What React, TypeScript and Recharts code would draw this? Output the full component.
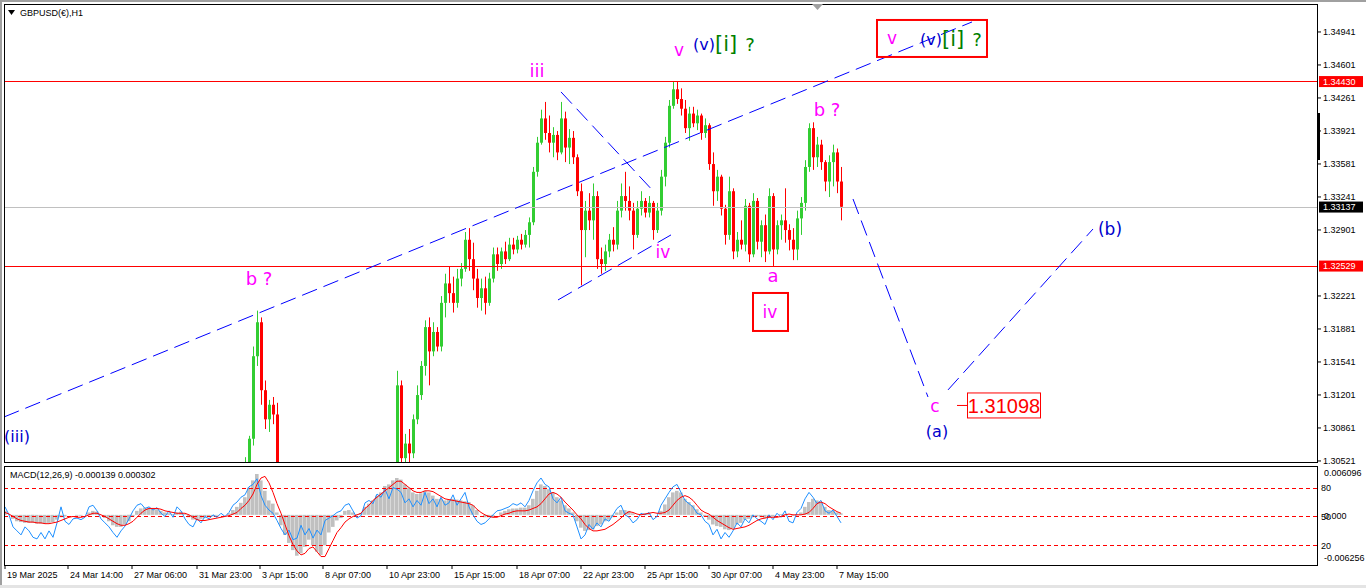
import React from 'react';
import { ComposedChart, Bar, Line, XAxis, YAxis, ReferenceLine, ReferenceDot } from 'recharts';

const FONT_AXIS = '"Liberation Sans", Arial, sans-serif';
const FONT_WAVE = '"DejaVu Sans", Verdana, sans-serif';
const UP = '#32CD32';
const DOWN = '#FF0000';
const MAGENTA = '#FF00FF';
const BLUE = '#0000CD';
const GREEN = '#008000';

// ---- data ----
const FIRST_HOUR = 1;
const HOURS_PER_CANDLE = 4;

// [open, high, low, close] – 4-hour candles of GBPUSD H1 chart
const candles: [number, number, number, number][] = [
  [1.3000,1.3003,1.2990,1.2995],[1.2995,1.2998,1.2985,1.2990],[1.2990,1.2993,1.2980,1.2985],[1.2985,1.2988,1.2970,1.2975],
  [1.2975,1.2978,1.2955,1.2960],[1.2960,1.2964,1.2950,1.2955],[1.2955,1.2958,1.2945,1.2950],[1.2950,1.2953,1.2940,1.2945],
  [1.2945,1.2950,1.2936,1.2940],[1.2940,1.2944,1.2930,1.2935],[1.2935,1.2940,1.2925,1.2930],[1.2930,1.2934,1.2920,1.2925],
  [1.2925,1.2928,1.2915,1.2920],[1.2920,1.2934,1.2917,1.2930],[1.2930,1.2950,1.2927,1.2945],[1.2945,1.2948,1.2935,1.2940],
  [1.2940,1.2943,1.2930,1.2935],[1.2935,1.2938,1.2926,1.2930],[1.2930,1.2934,1.2920,1.2925],[1.2925,1.2934,1.2922,1.2930],
  [1.2930,1.2939,1.2927,1.2935],[1.2935,1.2950,1.2932,1.2945],[1.2945,1.2955,1.2941,1.2950],[1.2950,1.2953,1.2940,1.2945],
  [1.2945,1.2948,1.2930,1.2935],[1.2935,1.2938,1.2915,1.2920],[1.2920,1.2924,1.2900,1.2905],[1.2905,1.2908,1.2885,1.2890],
  [1.2890,1.2893,1.2875,1.2880],[1.2880,1.2890,1.2876,1.2885],[1.2885,1.2899,1.2881,1.2895],[1.2895,1.2910,1.2891,1.2905],
  [1.2905,1.2925,1.2901,1.2920],[1.2920,1.2940,1.2916,1.2935],[1.2935,1.2950,1.2930,1.2945],[1.2945,1.2956,1.2940,1.2950],
  [1.2950,1.2955,1.2944,1.2950],[1.2950,1.2954,1.2943,1.2948],[1.2948,1.2951,1.2940,1.2945],[1.2945,1.2948,1.2936,1.2940],
  [1.2940,1.2944,1.2930,1.2935],[1.2935,1.2941,1.2931,1.2937],[1.2937,1.2940,1.2928,1.2933],[1.2933,1.2950,1.2930,1.2945],
  [1.2945,1.2948,1.2935,1.2940],[1.2940,1.2943,1.2925,1.2930],[1.2930,1.2933,1.2910,1.2915],[1.2915,1.2918,1.2905,1.2910],
  [1.2910,1.2919,1.2906,1.2915],[1.2915,1.2918,1.2908,1.2912],[1.2912,1.2922,1.2909,1.2918],[1.2918,1.2921,1.2911,1.2915],
  [1.2915,1.2924,1.2912,1.2920],[1.2920,1.2923,1.2914,1.2918],[1.2918,1.2926,1.2915,1.2922],[1.2922,1.2925,1.2916,1.2920],
  [1.2920,1.2929,1.2917,1.2925],[1.2925,1.2944,1.2922,1.2940],[1.2940,1.2960,1.2936,1.2955],[1.2955,1.2995,1.2950,1.2985],
  [1.2985,1.3056,1.2980,1.3050],[1.3050,1.3078,1.3040,1.3075],[1.3075,1.3170,1.3068,1.3160],[1.3160,1.3207,1.3150,1.3195],
  [1.3195,1.3200,1.3110,1.3125],[1.3125,1.3135,1.3085,1.3095],[1.3095,1.3115,1.3082,1.3110],[1.3110,1.3118,1.3090,1.3100],
  [1.3100,1.3112,1.3030,1.3040],[1.3040,1.3045,1.3000,1.3010],[1.3010,1.3015,1.2975,1.2980],[1.2980,1.2985,1.2945,1.2950],
  [1.2950,1.2955,1.2895,1.2900],[1.2900,1.2905,1.2875,1.2880],[1.2880,1.2885,1.2855,1.2860],[1.2860,1.2868,1.2845,1.2850],
  [1.2850,1.2885,1.2846,1.2880],[1.2880,1.2884,1.2845,1.2850],[1.2850,1.2855,1.2795,1.2800],[1.2800,1.2805,1.2750,1.2760],
  [1.2760,1.2785,1.2755,1.2780],[1.2780,1.2795,1.2775,1.2790],[1.2790,1.2794,1.2765,1.2770],[1.2770,1.2775,1.2752,1.2760],
  [1.2760,1.2785,1.2756,1.2780],[1.2780,1.2825,1.2776,1.2820],[1.2820,1.2855,1.2815,1.2850],[1.2850,1.2854,1.2825,1.2830],
  [1.2830,1.2834,1.2805,1.2810],[1.2810,1.2855,1.2806,1.2850],[1.2850,1.2885,1.2845,1.2880],[1.2880,1.2884,1.2865,1.2870],
  [1.2870,1.2905,1.2866,1.2900],[1.2900,1.2925,1.2896,1.2920],[1.2920,1.2945,1.2915,1.2940],[1.2940,1.2965,1.2935,1.2960],
  [1.2960,1.2995,1.2955,1.2990],[1.2990,1.3025,1.2985,1.3020],[1.3020,1.3145,1.3015,1.3130],[1.3130,1.3135,1.3040,1.3055],
  [1.3055,1.3080,1.3035,1.3070],[1.3070,1.3085,1.3045,1.3060],[1.3060,1.3100,1.3055,1.3095],[1.3095,1.3130,1.3090,1.3120],
  [1.3120,1.3155,1.3115,1.3150],[1.3150,1.3197,1.3140,1.3190],[1.3190,1.3200,1.3130,1.3165],[1.3165,1.3195,1.3160,1.3185],
  [1.3185,1.3190,1.3165,1.3170],[1.3170,1.3222,1.3165,1.3215],[1.3215,1.3245,1.3200,1.3235],[1.3235,1.3252,1.3215,1.3225],
  [1.3225,1.3242,1.3205,1.3215],[1.3215,1.3250,1.3210,1.3240],[1.3240,1.3256,1.3232,1.3250],[1.3250,1.3288,1.3247,1.3280],
  [1.3280,1.3292,1.3248,1.3260],[1.3260,1.3277,1.3228,1.3240],[1.3240,1.3250,1.3210,1.3220],[1.3220,1.3240,1.3207,1.3230],
  [1.3230,1.3242,1.3203,1.3215],[1.3215,1.3246,1.3212,1.3240],[1.3240,1.3272,1.3236,1.3265],[1.3265,1.3272,1.3248,1.3255],
  [1.3255,1.3272,1.3250,1.3268],[1.3268,1.3278,1.3255,1.3260],[1.3260,1.3282,1.3258,1.3275],[1.3275,1.3282,1.3265,1.3270],
  [1.3270,1.3284,1.3266,1.3280],[1.3280,1.3286,1.3270,1.3275],[1.3275,1.3290,1.3272,1.3285],[1.3285,1.3303,1.3272,1.3298],
  [1.3298,1.3355,1.3295,1.3350],[1.3350,1.3386,1.3345,1.3380],[1.3380,1.3414,1.3378,1.3405],[1.3405,1.3422,1.3383,1.3390],
  [1.3390,1.3408,1.3370,1.3380],[1.3380,1.3396,1.3365,1.3388],[1.3388,1.3392,1.3362,1.3370],[1.3370,1.3422,1.3368,1.3405],
  [1.3405,1.3412,1.3360,1.3375],[1.3375,1.3394,1.3358,1.3385],[1.3385,1.3392,1.3358,1.3365],[1.3365,1.3368,1.3325,1.3330],
  [1.3330,1.3338,1.3233,1.3290],[1.3290,1.3320,1.3262,1.3310],[1.3310,1.3328,1.3290,1.3300],[1.3300,1.3338,1.3280,1.3325],
  [1.3325,1.3330,1.3250,1.3260],[1.3260,1.3272,1.3245,1.3255],[1.3255,1.3275,1.3248,1.3268],[1.3268,1.3286,1.3262,1.3280],
  [1.3280,1.3293,1.3268,1.3275],[1.3275,1.3320,1.3270,1.3310],[1.3310,1.3338,1.3303,1.3325],[1.3325,1.3350,1.3310,1.3320],
  [1.3320,1.3335,1.3300,1.3310],[1.3310,1.3318,1.3270,1.3285],[1.3285,1.3320,1.3282,1.3312],[1.3312,1.3330,1.3305,1.3320],
  [1.3320,1.3323,1.3303,1.3308],[1.3308,1.3325,1.3303,1.3318],[1.3318,1.3320,1.3280,1.3290],[1.3290,1.3318,1.3287,1.3310],
  [1.3310,1.3352,1.3305,1.3345],[1.3345,1.3386,1.3335,1.3380],[1.3380,1.3424,1.3375,1.3418],[1.3418,1.3443,1.3415,1.3435],
  [1.3435,1.3443,1.3420,1.3425],[1.3425,1.3436,1.3408,1.3415],[1.3415,1.3424,1.3390,1.3395],[1.3395,1.3417,1.3382,1.3410],
  [1.3410,1.3417,1.3396,1.3400],[1.3400,1.3414,1.3393,1.3408],[1.3408,1.3410,1.3383,1.3390],[1.3390,1.3405,1.3385,1.3398],
  [1.3398,1.3400,1.3352,1.3358],[1.3358,1.3370,1.3315,1.3330],[1.3330,1.3352,1.3320,1.3345],[1.3345,1.3347,1.3305,1.3312],
  [1.3312,1.3316,1.3275,1.3285],[1.3285,1.3345,1.3280,1.3330],[1.3330,1.3333,1.3260,1.3268],[1.3268,1.3288,1.3262,1.3280],
  [1.3280,1.3300,1.3270,1.3275],[1.3275,1.3322,1.3268,1.3315],[1.3315,1.3318,1.3257,1.3265],[1.3265,1.3328,1.3262,1.3320],
  [1.3320,1.3323,1.3270,1.3278],[1.3278,1.3300,1.3262,1.3295],[1.3295,1.3306,1.3257,1.3268],[1.3268,1.3333,1.3265,1.3325],
  [1.3325,1.3328,1.3253,1.3270],[1.3270,1.3300,1.3265,1.3295],[1.3295,1.3306,1.3280,1.3300],[1.3300,1.3333,1.3277,1.3290],
  [1.3290,1.3296,1.3269,1.3280],[1.3280,1.3292,1.3259,1.3270],[1.3270,1.3310,1.3259,1.3302],[1.3302,1.3324,1.3285,1.3318],
  [1.3318,1.3362,1.3310,1.3355],[1.3355,1.3400,1.3350,1.3395],[1.3395,1.3401,1.3352,1.3365],[1.3365,1.3386,1.3355,1.3378],
  [1.3378,1.3383,1.3352,1.3360],[1.3360,1.3362,1.3330,1.3340],[1.3340,1.3367,1.3324,1.3360],[1.3360,1.3378,1.3335,1.3370],
  [1.3370,1.3374,1.3328,1.3340],[1.3340,1.3355,1.3300,1.3314],
];

// MACD values in pips (0.0001)
const macdMain = [
  5,0,-5,-8,-9,-10,-10,-10,-11,-11, -11,-10,-9,-6,-3,-2,0,0,-1,-1,
  0,3,5,4,0,-4,-8,-13,-15,-15, -12,-8,-2,5,8,9,9,8,7,5,
  3,2,1,3,4,1,-3,-6,-6,-5, -4,-3,-2,-1,0,0,2,6,10,15,
  22,34,43,51,43,30,18,14,3,-13, -25,-35,-44,-51,-48,-40,-31,-38,-46,-50,
  -38,-22,-15,-7,-4,5,6,3,1,2, 10,14,18,24,28,36,38,43,46,44,
  38,34,28,26,27,30,28,24,20,20, 18,19,20,19,18,17,16,12,6,0,
  -3,-3,-3,0,3,5,7,8,8,9, 9,12,20,30,38,36,32,28,22,18,
  12,8,3,-8,-16,-20,-19,-18,-14,-12, -8,-6,-3,3,6,6,5,2,0,1,
  2,2,0,0,5,13,22,28,30,28, 20,16,12,7,3,-2,-6,-12,-14,-15,
  -18,-19,-17,-12,-10,-6,-5,-3,-2,-3, -4,-2,-2,0,1,1,0,-1,1,3,
  10,16,20,18,15,10,6,5,3,2,
];
const macdSignal = [
  3,1,-2,-5,-7,-8,-9,-9,-10,-10, -11,-11,-10,-9,-7,-5,-3,-2,-3,-3,
  -2,0,2,2,0,-2,-5,-8,-11,-13, -13,-11,-8,-3,2,6,8,8,8,7,
  5,4,3,2,2,2,0,-3,-6,-7, -7,-6,-5,-4,-3,-2,-1,1,3,8,
  12,18,26,38,46,48,40,28,14,2, -12,-26,-37,-45,-50,-48,-42,-40,-46,-52,
  -52,-42,-32,-22,-16,-9,-5,-2,0,2, 8,12,18,22,26,30,34,38,42,42,
  38,34,30,28,28,30,30,29,26,23, 20,19,18,17,16,15,14,12,7,3,
  0,-2,-3,-3,-1,1,2,4,5,5, 5,6,8,10,14,20,26,28,26,22,
  16,11,6,0,-5,-12,-17,-20,-20,-19, -18,-15,-12,-8,-4,1,4,3,1,0,
  1,2,3,2,2,3,6,12,18,22, 24,22,18,12,6,3,1,-3,-7,-10,
  -13,-16,-18,-17,-16,-15,-13,-10,-7,-5, -4,-3,-3,-3,-2,0,1,0,0,0,
  1,3,8,14,16,14,10,7,4,2,
];
const macdFast = [
  10,0,-15,-20,-25,-15,-20,-28,-30,-22, -30,-20,-28,-10,10,-8,-12,-5,-4,-6,
  -3,10,12,5,-5,-10,-15,-22,-28,-20, -14,-5,5,12,14,8,10,6,9,2,
  -2,5,-3,10,5,-5,-12,-15,-5,-10, -2,-5,0,-3,2,-2,3,12,16,22,
  25,35,38,45,24,12,6,2,-7,-17, -25,-19,-31,-29,-13,-25,-17,-29,-19,-25,
  -7,-4,-1,3,5,12,14,5,-4,-1, 15,18,14,26,22,32,20,34,32,28,
  15,20,10,18,12,28,14,20,10,22, 12,15,25,12,20,28,10,0,-8,-12,
  -10,-5,0,5,6,8,10,14,12,15, 10,18,30,40,46,38,35,20,15,22,
  5,2,0,-15,-30,-25,-12,-18,-10,-15, -5,-8,0,8,12,0,-3,-10,-6,2,
  0,3,-6,-2,12,20,28,35,38,28, 18,14,10,2,0,-8,-12,-25,-18,-30,
  -22,-28,-20,-10,-15,-5,-10,0,-5,-8, -12,0,-6,2,-3,5,-8,-10,3,8,
  20,28,22,14,18,5,2,6,-2,-10,
];

const priceTicks = [1.34941, 1.34601, 1.34261, 1.33921, 1.33581, 1.33241, 1.32901, 1.32221, 1.31881, 1.31541, 1.31201, 1.30861, 1.30521];
const timeTickHours = [1, 64, 128, 193, 256, 319, 383, 448, 513, 577, 641, 705, 769, 833];
const timeTickLabels = ['19 Mar 2025', '24 Mar 14:00', '27 Mar 06:00', '31 Mar 23:00', '3 Apr 15:00', '8 Apr 07:00', '10 Apr 23:00', '15 Apr 15:00', '18 Apr 07:00', '22 Apr 23:00', '25 Apr 15:00', '30 Apr 07:00', '4 May 23:00', '7 May 15:00'];
const macdTicks = [0.006096, 0, -0.006256];
const stochLevels = [80, 50, 20];

const LEVEL_HIGH = 1.3443;
const LEVEL_BID = 1.33137;
const LEVEL_LOW = 1.32529;
const TARGET_C = 1.31098;

const priceData = candles.map(([open, high, low, close], i) => ({
  t: FIRST_HOUR + i * HOURS_PER_CANDLE, open, high, low, close,
}));
const macdData = macdMain.map((m, i) => ({
  t: FIRST_HOUR + i * HOURS_PER_CANDLE,
  main: m / 10000,
  signal: macdSignal[i] / 10000,
  fast: macdFast[i] / 10000,
}));

// ---- drawing helpers ----
const CandleShape = (props: any) => {
  const { x, y, width, height, payload } = props;
  if (x == null || y == null || !payload) return null;
  const { open, close, high, low } = payload;
  const top = Math.min(y, y + height);
  const h = Math.abs(height);
  const k = high - low > 0 ? h / (high - low) : 0;
  const yO = top + (high - open) * k;
  const yC = top + (high - close) * k;
  const color = close >= open ? UP : DOWN;
  const cx = Math.round(x + width / 2);
  const bTop = Math.min(yO, yC);
  const bH = Math.max(1, Math.abs(yC - yO));
  return (
    <g>
      <line x1={cx + 0.5} x2={cx + 0.5} y1={top} y2={top + h} stroke={color} strokeWidth={1} />
      <rect x={cx - 1} y={bTop} width={3} height={bH} fill={color} />
    </g>
  );
};

const PriceTick = (props: any) => {
  const { x, y, payload } = props;
  return (
    <text x={x} y={y} dy="0.35em" fontSize={9} fontFamily={FONT_AXIS} fill="#000">
      {Number(payload.value).toFixed(5)}
    </text>
  );
};

const TimeTick = (props: any) => {
  const { x, y, payload } = props;
  const idx = timeTickHours.indexOf(payload.value);
  return (
    <text x={x + 2} y={y} dy="0.75em" fontSize={9} fontFamily={FONT_AXIS} fill="#000">
      {timeTickLabels[idx]}
    </text>
  );
};

const MacdTick = (props: any) => {
  const { x, y, payload } = props;
  const v = payload.value;
  const shift = v > 0 ? 7 : v < 0 ? -7 : 1;
  const label = v === 0 ? '0.000' : v.toFixed(6);
  return (
    <text x={x - 2} y={y + shift} dy="0.35em" fontSize={9} fontFamily={FONT_AXIS} fill="#000">
      {label}
    </text>
  );
};

const priceTag = (value: string, bg: string) => (props: any) => {
  const vb = props.viewBox || {};
  const x = vb.x + vb.width;
  const y = vb.y;
  return (
    <g>
      <rect x={x + 1} y={y - 5.5} width={44} height={11} fill={bg} />
      <text x={x + 5} y={y} dy="0.35em" fontSize={9} fontFamily={FONT_AXIS} fill="#FFFFFF">{value}</text>
    </g>
  );
};

const levelTag = (value: string) => (props: any) => {
  const vb = props.viewBox || {};
  return (
    <text x={vb.x + vb.width + 3} y={vb.y} dy="0.35em" fontSize={9} fontFamily={FONT_AXIS} fill="#000">{value}</text>
  );
};

const waveText = (text: string, color: string, size: number, anchor: 'middle' | 'start' = 'middle') => (p: any) => (
  <text x={p.cx} y={p.cy} fill={color} fontSize={size} fontFamily={FONT_WAVE} textAnchor={anchor} dominantBaseline="central">
    {text}
  </text>
);

const topDegreeGroup = (p: any) => (
  <text x={p.cx} y={p.cy} fontFamily={FONT_WAVE} dominantBaseline="central">
    <tspan fill={BLUE} fontSize={16}>(v)</tspan>
    <tspan fill={GREEN} fontSize={21}>[i]</tspan>
    <tspan fill={GREEN} fontSize={18} dx={8}>?</tspan>
  </text>
);

const boxedTop = (p: any) => (
  <g>
    <rect x={p.cx - 55} y={p.cy - 18} width={110} height={37} fill="none" stroke="#FF0000" strokeWidth={2} />
    <text x={p.cx - 40} y={p.cy} fill={MAGENTA} fontSize={17} fontFamily={FONT_WAVE} textAnchor="middle" dominantBaseline="central">v</text>
    <text x={p.cx - 12} y={p.cy + 1} fontFamily={FONT_WAVE} dominantBaseline="central">
      <tspan fill={BLUE} fontSize={16}>(v)</tspan>
      <tspan fill={GREEN} fontSize={21}>[i]</tspan>
      <tspan fill={GREEN} fontSize={18} dx={8}>?</tspan>
    </text>
  </g>
);

const boxedIv = (p: any) => (
  <g>
    <rect x={p.cx - 17} y={p.cy - 19} width={35} height={38} fill="none" stroke="#FF0000" strokeWidth={2} />
    <text x={p.cx} y={p.cy} fill={MAGENTA} fontSize={17} fontFamily={FONT_WAVE} textAnchor="middle" dominantBaseline="central">iv</text>
  </g>
);

const targetTag = (p: any) => (
  <g>
    <line x1={p.cx} x2={p.cx + 10} y1={p.cy + 0.5} y2={p.cy + 0.5} stroke="#FF0000" strokeWidth={1} />
    <rect x={p.cx + 10.5} y={p.cy - 12} width={73} height={25} fill="#FFFFFF" stroke="#FF0000" strokeWidth={1} />
    <text x={p.cx + 47} y={p.cy + 1} fill="#FF0000" fontSize={20} fontFamily={FONT_AXIS} textAnchor="middle" dominantBaseline="central">
      {TARGET_C.toFixed(5)}
    </text>
  </g>
);

const DASH = '16 7';
const LINE_BLUE = '#0000FF';

export default function App() {
  return (
    <div style={{ position: 'absolute', left: 0, top: 0, width: 1366, height: 588, background: '#FFFFFF', overflow: 'hidden' }}>
      {/* main price panel */}
      <div style={{ position: 'absolute', left: 0, top: 0 }}>
        <ComposedChart width={1366} height={467} data={priceData} margin={{ top: 4, right: 0, bottom: 4, left: 4 }}>
          <XAxis dataKey="t" type="number" domain={[0, 1314]} hide allowDataOverflow />
          <YAxis
            orientation="right"
            width={48}
            domain={[1.305, 1.35229]}
            allowDataOverflow
            ticks={priceTicks}
            interval={0}
            axisLine={false}
            tickLine={{ stroke: '#000' }}
            tickSize={3}
            tick={<PriceTick />}
          />
          <Bar dataKey={(d: any) => [d.low, d.high]} shape={<CandleShape />} barSize={3} isAnimationActive={false} />

          <ReferenceLine y={LEVEL_BID} stroke="#C0C0C0" strokeWidth={1} shapeRendering="crispEdges" label={priceTag('1.33137', '#000000')} />
          <ReferenceLine y={LEVEL_HIGH} stroke="#FF0000" strokeWidth={1} shapeRendering="crispEdges" label={priceTag('1.34430', '#FF0000')} />
          <ReferenceLine y={LEVEL_LOW} stroke="#FF0000" strokeWidth={1} shapeRendering="crispEdges" label={priceTag('1.32529', '#FF0000')} />

          <ReferenceLine segment={[{ x: 0, y: 1.30974 }, { x: 968, y: 1.35044 }]} stroke={LINE_BLUE} strokeDasharray={DASH} />
          <ReferenceLine segment={[{ x: 557, y: 1.34323 }, { x: 651, y: 1.33282 }]} stroke={LINE_BLUE} strokeDasharray={DASH} />
          <ReferenceLine segment={[{ x: 554, y: 1.3218 }, { x: 667, y: 1.3285 }]} stroke={LINE_BLUE} strokeDasharray={DASH} />
          <ReferenceLine segment={[{ x: 849, y: 1.3322 }, { x: 924, y: 1.3118 }]} stroke={LINE_BLUE} strokeDasharray={DASH} />
          <ReferenceLine segment={[{ x: 944, y: 1.31253 }, { x: 1089, y: 1.32911 }]} stroke={LINE_BLUE} strokeDasharray={DASH} />

          <ReferenceDot x={13} y={1.30768} r={1} shape={waveText('(iii)', BLUE, 16)} />
          <ReferenceDot x={255} y={1.32396} r={1} shape={waveText('b ?', MAGENTA, 18)} />
          <ReferenceDot x={533} y={1.34539} r={1} shape={waveText('iii', MAGENTA, 18)} />
          <ReferenceDot x={675} y={1.34756} r={1} shape={waveText('v', MAGENTA, 17)} />
          <ReferenceDot x={689} y={1.34817} r={1} shape={topDegreeGroup} />
          <ReferenceDot x={659} y={1.32674} r={1} shape={waveText('iv', MAGENTA, 17)} />
          <ReferenceDot x={769} y={1.32427} r={1} shape={waveText('a', MAGENTA, 18)} />
          <ReferenceDot x={766} y={1.32056} r={1} shape={boxedIv} />
          <ReferenceDot x={823} y={1.34137} r={1} shape={waveText('b ?', MAGENTA, 18)} />
          <ReferenceDot x={928} y={1.34879} r={1} shape={boxedTop} />
          <ReferenceDot x={1106} y={1.32911} r={1} shape={waveText('(b)', BLUE, 17)} />
          <ReferenceDot x={931} y={1.31088} r={1} shape={waveText('c', MAGENTA, 17)} />
          <ReferenceDot x={933} y={1.3082} r={1} shape={waveText('(a)', BLUE, 16)} />
          <ReferenceDot x={953} y={TARGET_C} r={1} shape={targetTag} />
        </ComposedChart>
      </div>

      {/* MACD panel */}
      <div style={{ position: 'absolute', left: 0, top: 462 }}>
        <ComposedChart width={1366} height={126} data={macdData} margin={{ top: 4, right: 0, bottom: 0, left: 4 }}>
          <XAxis
            dataKey="t"
            type="number"
            domain={[0, 1314]}
            allowDataOverflow
            ticks={timeTickHours}
            interval={0}
            height={23}
            axisLine={false}
            tickLine={{ stroke: '#000' }}
            tickSize={4}
            tick={<TimeTick />}
          />
          <YAxis
            yAxisId="m"
            orientation="right"
            width={48}
            domain={[-0.006256, 0.006096]}
            allowDataOverflow
            ticks={macdTicks}
            interval={0}
            axisLine={false}
            tickLine={false}
            tick={<MacdTick />}
          />
          <YAxis yAxisId="lvl" hide domain={[-0.35, 102.96]} allowDataOverflow />
          <Bar yAxisId="m" dataKey="main" fill="#C0C0C0" barSize={4} isAnimationActive={false} />
          {stochLevels.map((lv) => (
            <ReferenceLine key={lv} yAxisId="lvl" y={lv} stroke="#FF0000" strokeWidth={1} strokeDasharray="4 3" shapeRendering="crispEdges" label={levelTag(String(lv))} />
          ))}
          <Line yAxisId="m" dataKey="fast" type="linear" stroke="#1E90FF" strokeWidth={1} dot={false} isAnimationActive={false} />
          <Line yAxisId="m" dataKey="signal" type="linear" stroke="#FF0000" strokeWidth={1} dot={false} isAnimationActive={false} />
        </ComposedChart>
      </div>

      {/* panel frames */}
      <div style={{ position: 'absolute', left: 4, top: 4, width: 1314, height: 459, border: '1px solid #000', boxSizing: 'border-box', pointerEvents: 'none' }} />
      <div style={{ position: 'absolute', left: 4, top: 466, width: 1314, height: 100, border: '1px solid #000', boxSizing: 'border-box', pointerEvents: 'none' }} />
      <div style={{ position: 'absolute', left: 1317, top: 113, width: 3, height: 47, background: '#000' }} />
      <div style={{ position: 'absolute', left: 0, top: 0, width: 1366, height: 2, background: '#A0A0A0' }} />
      <div style={{ position: 'absolute', left: 0, top: 0, width: 2, height: 588, background: '#A0A0A0' }} />
      <div style={{ position: 'absolute', left: 0, top: 585, width: 1366, height: 3, background: '#E4E4E4' }} />
      <svg style={{ position: 'absolute', left: 812, top: 4 }} width={12} height={7}>
        <polygon points="0,0 11,0 5.5,6" fill="#A0A0A0" />
      </svg>

      {/* titles */}
      <svg style={{ position: 'absolute', left: 8, top: 10 }} width={8} height={6}>
        <polygon points="0,0 7,0 3.5,5" fill="#000" />
      </svg>
      <div style={{ position: 'absolute', left: 20, top: 7, fontFamily: FONT_AXIS, fontSize: 9, color: '#000', lineHeight: '12px', whiteSpace: 'nowrap' }}>
        GBPUSD(€),H1
      </div>
      <div style={{ position: 'absolute', left: 10, top: 469, fontFamily: FONT_AXIS, fontSize: 9, color: '#000', lineHeight: '12px', whiteSpace: 'nowrap' }}>
        MACD(12,26,9) -0.000139 0.000302
      </div>
    </div>
  );
}
